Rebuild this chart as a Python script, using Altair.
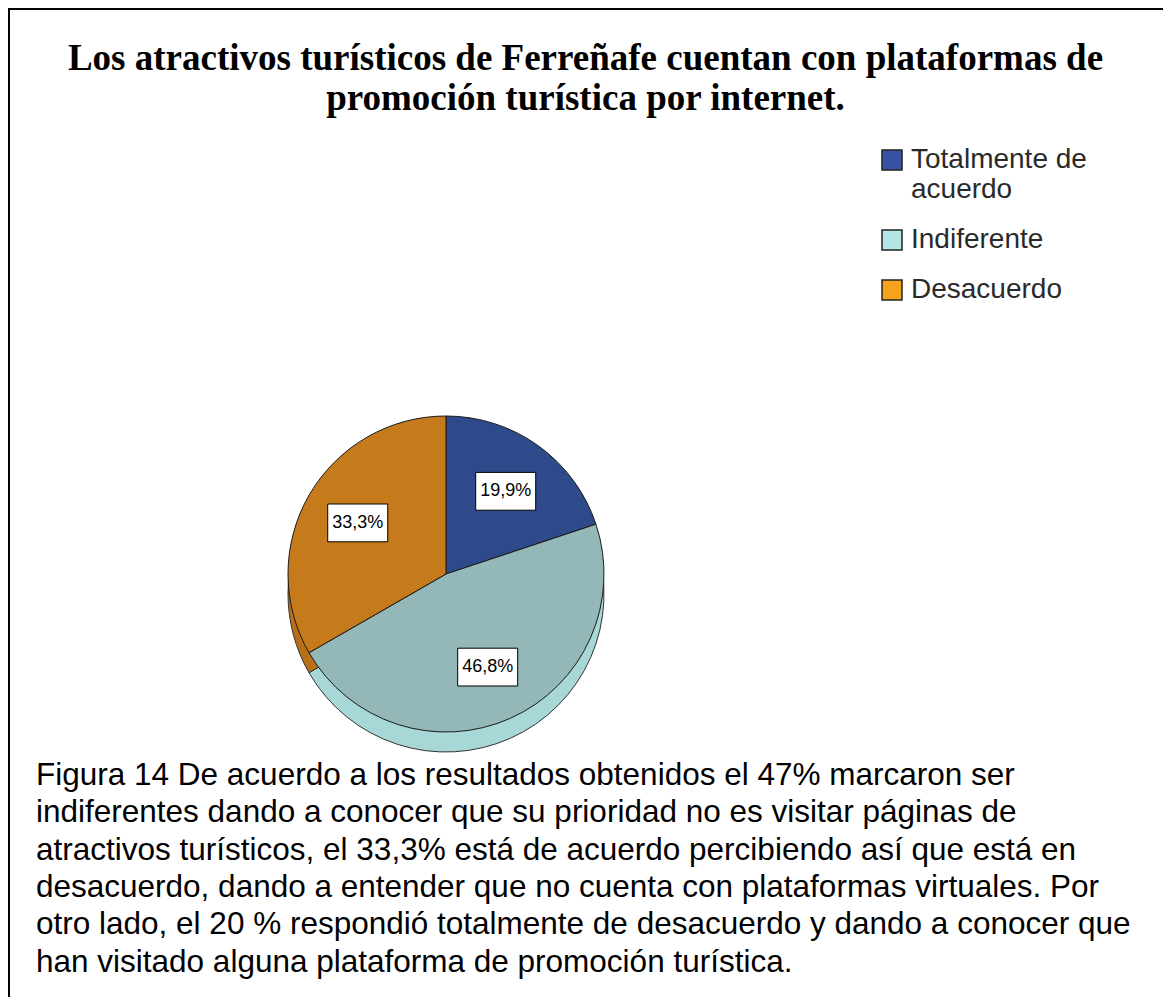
import altair as alt
import pandas as pd

# ---------------- data ----------------
categories = ["Totalmente de acuerdo", "Indiferente", "Desacuerdo"]
values = [19.9, 46.8, 33.3]

title_lines = [
    "Los atractivos turísticos de Ferreñafe cuentan con plataformas de",
    "promoción turística por internet.",
]
caption_lines = [
    "Figura 14 De acuerdo a los resultados obtenidos el 47% marcaron ser",
    "indiferentes dando a conocer que su prioridad no es visitar páginas de",
    "atractivos turísticos, el 33,3% está de acuerdo percibiendo así que está en",
    "desacuerdo, dando a entender que no cuenta con plataformas virtuales. Por",
    "otro lado, el 20 % respondió totalmente de desacuerdo y dando a conocer que",
    "han visitado alguna plataforma de promoción turística.",
]

# ---------------- styles ----------------
slice_colors = ["#2F4A8A", "#93B8B7", "#C57A1B"]
side_colors = ["#2A4280", "#A8D7D8", "#B86F16"]
legend_colors = ["#3953A4", "#B4E5E5", "#F7A21C"]

W, H = 1155, 989
CX, CY, R, DEPTH = 438, 566, 158, 20
RL = 102
CAP_Y0, CAP_DY = 777, 37.3

df = pd.DataFrame({"categoria": categories, "valor": values, "orden": list(range(len(categories)))})
cap_df = pd.DataFrame({"linea": caption_lines, "n": list(range(len(caption_lines)))})

base = alt.Chart(df)

legend_layer = base.mark_square(size=1, filled=True, opacity=1).encode(
    x=alt.value(CX),
    y=alt.value(CY),
    color=alt.Color(
        "categoria:N",
        scale=alt.Scale(domain=categories, range=legend_colors),
        legend=alt.Legend(
            title=None, orient="none", legendX=870, legendY=138,
            symbolType="square", symbolSize=400, symbolOpacity=1,
            symbolStrokeColor="#222222", symbolStrokeWidth=1.5,
            labelFont="Liberation Sans", labelFontSize=28, labelColor="#2a2a2a",
            labelOffset=5, rowPadding=22, padding=0, labelLimit=400,
            labelExpr="datum.label == 'Totalmente de acuerdo' ? ['Totalmente de', 'acuerdo'] : datum.label",
        ),
    ),
)

side = base.mark_arc(radius=R, stroke="#333333", strokeWidth=1).encode(
    theta=alt.Theta("valor:Q", stack=True),
    order=alt.Order("orden:Q"),
    color=alt.Color("categoria:N", scale=alt.Scale(domain=categories, range=side_colors), legend=None),
    x=alt.value(CX),
    y=alt.value(CY + DEPTH),
)

top = base.mark_arc(radius=R, stroke="#1a1a1a", strokeWidth=1).encode(
    theta=alt.Theta("valor:Q", stack=True),
    order=alt.Order("orden:Q"),
    color=alt.Color("categoria:N", scale=alt.Scale(domain=categories, range=slice_colors), legend=None),
    x=alt.value(CX),
    y=alt.value(CY),
)

lab = base.transform_joinaggregate(total="sum(valor)").transform_window(
    cum="sum(valor)", sort=[alt.SortField("orden")], frame=[None, 0]
).transform_calculate(
    mid="2*PI*(datum.cum - datum.valor/2)/datum.total",
    lx=f"{CX} + {RL}*sin(datum.mid)",
    ly=f"{CY} - {RL}*cos(datum.mid)",
    texto="replace(format(datum.valor, '.1f'), '.', ',') + '%'",
)

boxes = lab.mark_point(
    shape="M-1,-0.63L1,-0.63L1,0.63L-1,0.63Z", size=3600, filled=True,
    fill="white", stroke="black", strokeWidth=1, opacity=1,
).encode(
    x=alt.X("lx:Q", scale=None, axis=None),
    y=alt.Y("ly:Q", scale=None, axis=None),
)

texts = lab.mark_text(font="Liberation Sans", fontSize=18, color="black", baseline="middle").encode(
    x=alt.X("lx:Q", scale=None, axis=None),
    y=alt.Y("ly:Q", scale=None, axis=None),
    text="texto:N",
)

caption = alt.Chart(cap_df).transform_calculate(
    yy=f"{CAP_Y0} + datum.n*{CAP_DY}"
).mark_text(
    align="left", baseline="alphabetic", font="Liberation Sans", fontSize=31.5, color="black"
).encode(
    x=alt.value(28),
    y=alt.Y("yy:Q", scale=None, axis=None),
    text="linea:N",
)

border = base.transform_filter("datum.orden == 0").mark_rect(
    fillOpacity=0, stroke="black", strokeWidth=2
).encode(x=alt.value(1), y=alt.value(1), x2=alt.value(1400), y2=alt.value(1400))

chart = alt.layer(border, legend_layer, side, top, boxes, texts, caption).resolve_scale(
    color="independent"
).properties(
    width=W,
    height=H,
    padding=0,
    autosize=alt.AutoSizeParams(type="none"),
    title=alt.Title(
        text=title_lines, font="Liberation Serif", fontSize=37, fontWeight="bold",
        color="black", anchor="middle", offset=-110, lineHeight=40,
    ),
).configure_view(stroke=None)

chart.save("out.html", embed_options={"renderer": "svg", "actions": False})
